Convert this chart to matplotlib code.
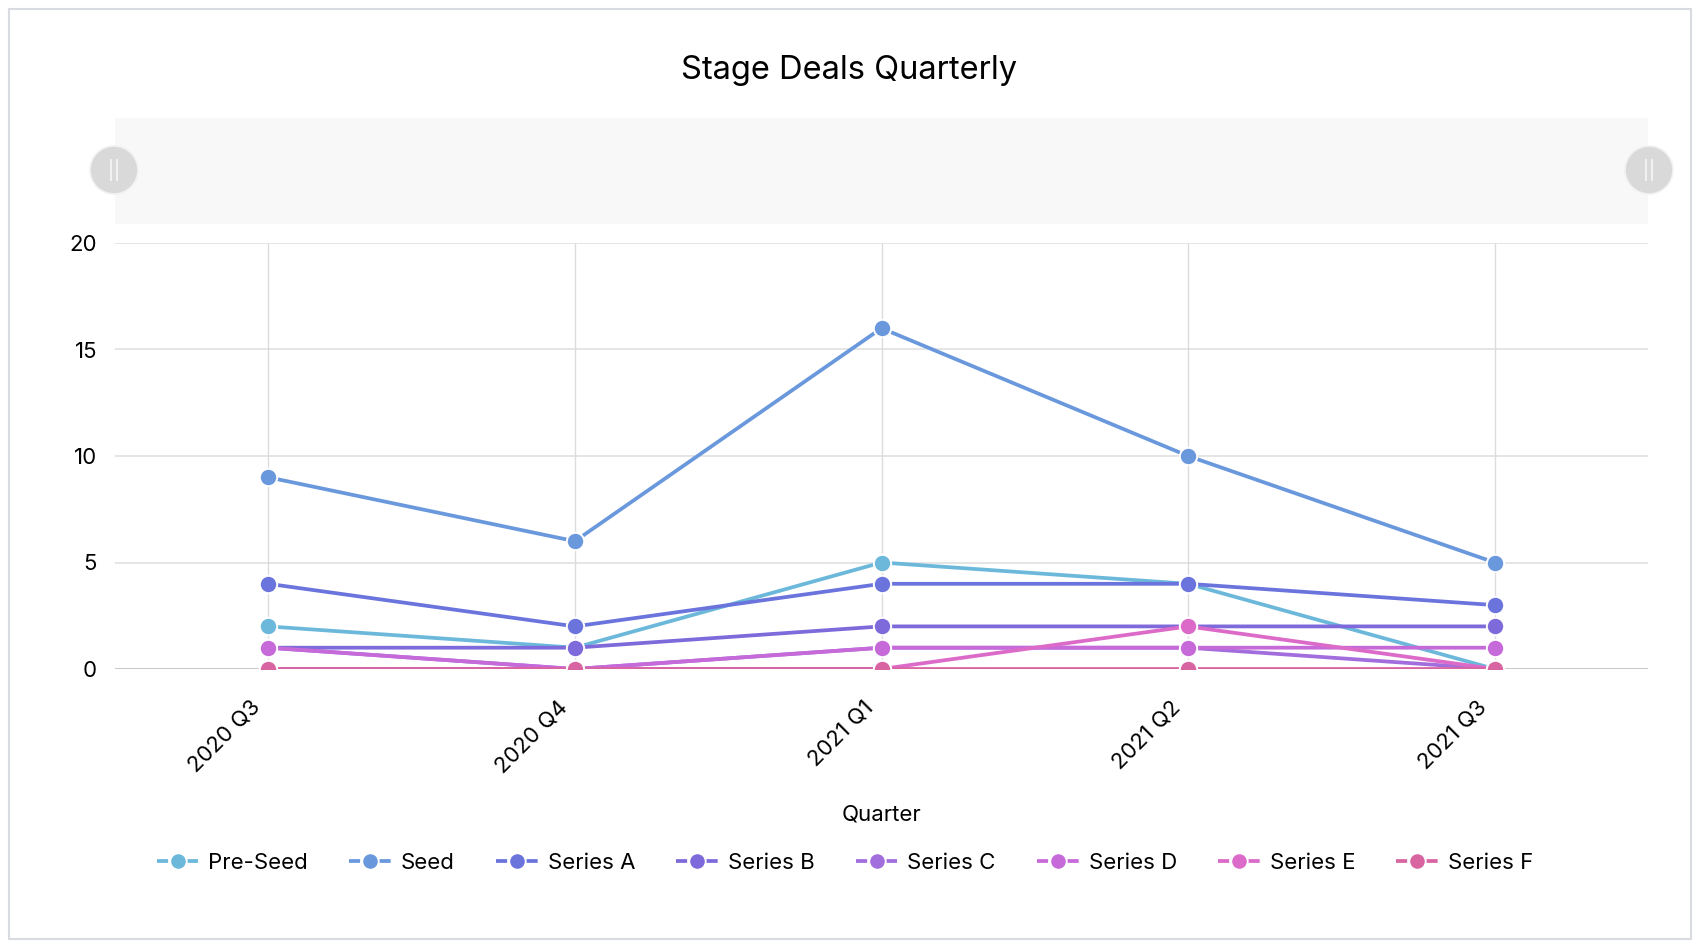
import matplotlib
matplotlib.use("Agg")
import matplotlib.pyplot as plt
from matplotlib.lines import Line2D
from matplotlib.patches import Rectangle, Ellipse
from matplotlib.transforms import ScaledTranslation

plt.rcParams['font.family'] = ['Inter', 'DejaVu Sans']

quarters = ["2020 Q3", "2020 Q4", "2021 Q1", "2021 Q2", "2021 Q3"]
stages = ["Pre-Seed", "Seed", "Series A", "Series B", "Series C", "Series D", "Series E", "Series F"]
pre_seed = [2, 1, 5, 4, 0]
seed = [9, 6, 16, 10, 5]
series_a = [4, 2, 4, 4, 3]
series_b = [1, 1, 2, 2, 2]
series_c = [1, 0, 1, 1, 0]
series_d = [1, 0, 1, 1, 1]
series_e = [0, 0, 0, 2, 0]
series_f = [0, 0, 0, 0, 0]
values = [pre_seed, seed, series_a, series_b, series_c, series_d, series_e, series_f]
colors = ["#6cb8db", "#6a98dc", "#6b74dc", "#7e6adb", "#a26ddd", "#c66ad9", "#dc6ac9", "#d865a2"]
yticks = [0, 5, 10, 15, 20]

W, H = 1700, 946
fig = plt.figure(figsize=(W / 100, H / 100), dpi=100)

def fx(px):
    return px / W

def fy(py):
    return 1 - py / H

# outer border
fig.patches.append(Rectangle((fx(9), fy(939)), fx(1682), 930 / H, transform=fig.transFigure,
                             fill=False, edgecolor="#d8dce1", linewidth=1.5))

# slider band
fig.patches.append(Rectangle((fx(115), fy(224)), fx(1533), 106 / H, transform=fig.transFigure,
                             facecolor="#f8f8f8", edgecolor="none"))
for cx in (114, 1649):
    r = 24
    ell = Ellipse((fx(cx), fy(170)), 2 * r / W, 2 * r / H, transform=fig.transFigure,
                  facecolor="#d9d9d9", edgecolor="#f2f2f2", linewidth=1.2)
    fig.patches.append(ell)
    for dx in (-3, 3):
        fig.add_artist(Line2D([fx(cx + dx), fx(cx + dx)], [fy(160), fy(180)],
                              transform=fig.transFigure, color="#f4f4f4", linewidth=1.3))

ax = fig.add_axes([fx(115), fy(669), fx(1533), (669 - 243) / H])
x = list(range(len(quarters)))
lw = 2.7
for name, vals, c in zip(stages, values, colors):
    ax.plot(x, vals, color=c, linewidth=lw, marker="o", markersize=12.5,
            markerfacecolor=c, markeredgecolor="white", markeredgewidth=1.4,
            solid_capstyle="round", label=name)

ax.set_xlim(-0.5, len(quarters) - 0.5)
ax.set_ylim(0, 20)
ax.set_yticks(yticks)
ax.set_yticklabels([str(v) for v in yticks])
ax.set_xticks(x)
ax.set_xticklabels(quarters, rotation=45, ha="right", rotation_mode="anchor")
for s in ax.spines.values():
    s.set_visible(False)
ax.tick_params(axis="both", length=0, labelsize=16, colors="black")
ax.tick_params(axis="y", pad=13)
ax.tick_params(axis="x", pad=20)
shift = ScaledTranslation(-18 / 100, 0, fig.dpi_scale_trans)
for lbl in ax.get_xticklabels():
    lbl.set_transform(lbl.get_transform() + shift)
for t in yticks:
    ax.axhline(t, color="#c4c4c4" if t == 0 else "#dedede", linewidth=1.3 if t == 0 else 1.1, zorder=0)
for xi in x:
    ax.axvline(xi, color="#dcdcdc", linewidth=1.0, zorder=0)

ax.set_xlabel("Quarter", fontsize=16, labelpad=20)
fig.text(fx(849), fy(70), "Stage Deals Quarterly", fontsize=23.5, ha="center", va="center")

handles = [Line2D([0], [0], color=c, linewidth=lw, linestyle=(0, (8 / lw, 14 / lw)), marker="o",
                  markersize=11.5, markerfacecolor=c, markeredgecolor="white", markeredgewidth=1.0)
           for c in colors]
fig.legend(handles, stages, loc="center", bbox_to_anchor=(fx(845), fy(863)), ncol=8,
           frameon=False, fontsize=16, handlelength=1.875, handletextpad=0.45, columnspacing=1.85)

fig.savefig("out.png", dpi=100)
